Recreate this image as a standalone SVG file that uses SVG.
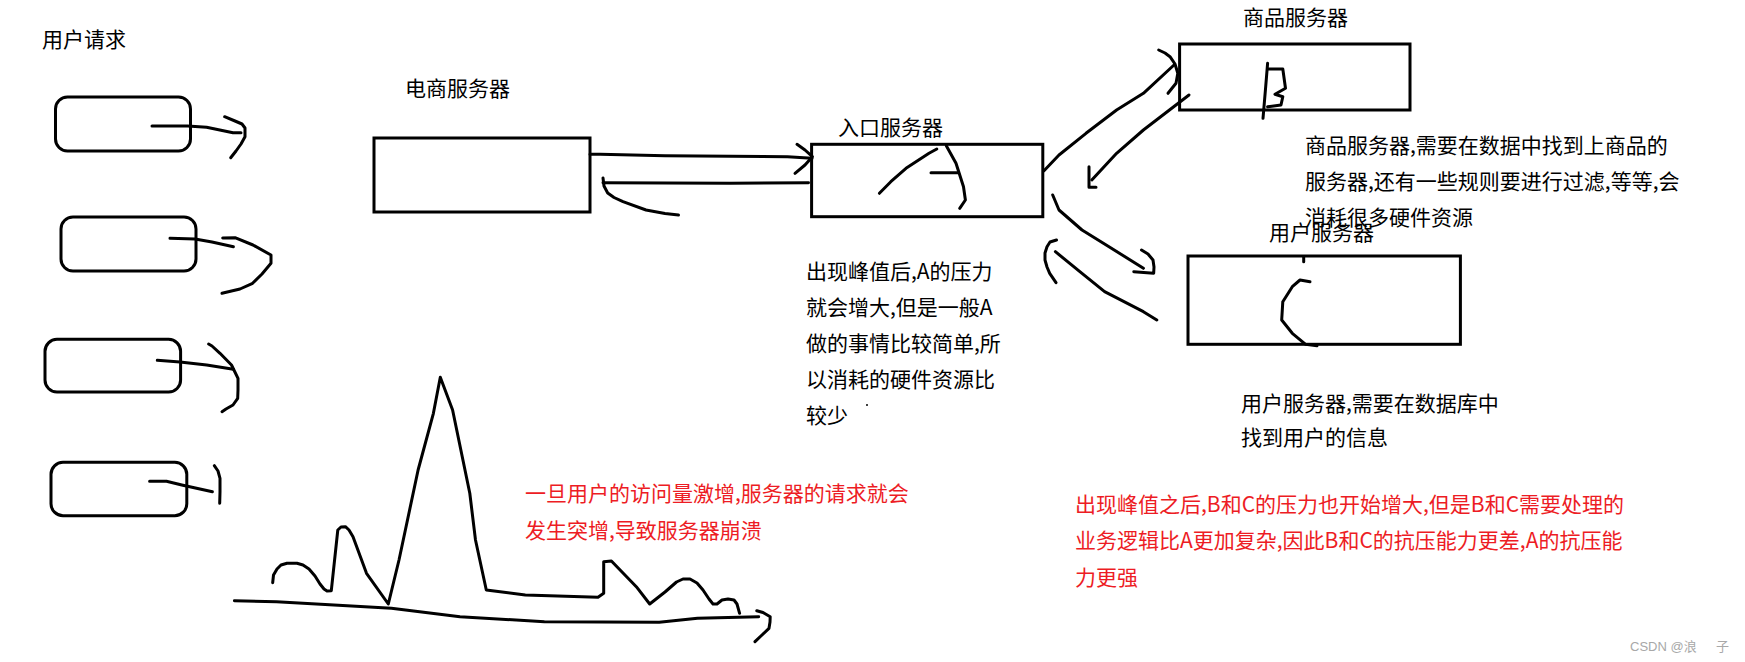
<svg xmlns="http://www.w3.org/2000/svg" width="1745" height="662" viewBox="0 0 1745 662">
<style>
.s{fill:none;stroke:#000;stroke-width:3;stroke-linecap:round;stroke-linejoin:round}
.box{fill:#fff;stroke:#000;stroke-width:3}
.t{font-family:"Noto Sans CJK SC","Microsoft YaHei",sans-serif;font-size:21px;fill:#000}
.r{fill:#ed1c24}
.w{font-family:"Liberation Sans","Noto Sans CJK SC",sans-serif;font-size:13px;fill:#a8a8a8}
</style>
<rect width="1745" height="662" fill="#fff"/>

<g id="user-requests">
<text class="t" x="42" y="47">用户请求</text>
<rect class="box" x="55.5" y="97" width="135" height="54" rx="12"/>
<rect class="box" x="61" y="217" width="135" height="54" rx="12"/>
<rect class="box" x="45" y="339.3" width="135.6" height="52.7" rx="12"/>
<rect class="box" x="51" y="462.3" width="135.8" height="53.4" rx="12"/>
</g>

<g id="ecommerce-server">
<text class="t" x="405" y="96">电商服务器</text>
<rect class="box" x="374" y="138" width="216" height="74"/>
</g>

<g id="entry-server">
<text class="t" x="838" y="135">入口服务器</text>
<rect class="box" x="811.6" y="144.3" width="231.2" height="72.4"/>
<polyline class="s" points="879.4,193.3 890.8,181.7 906,168.3 929,153.3 936.8,149"/>
<polyline class="s" points="946.3,145.7 956,163.3 963.5,186.7 965.4,200 959.7,208.3"/>
<line class="s" x1="931" y1="172.7" x2="957.8" y2="172.7"/>
</g>

<g id="goods-server">
<text class="t" x="1243" y="24.5">商品服务器</text>
<rect class="box" x="1179.6" y="44" width="230.4" height="66"/>
<polyline class="s" points="1267.6,63.3 1265.7,86.7 1263,118.3"/>
<polyline class="s" points="1267.6,69 1282.8,69 1285.5,88.3 1275,94.3 1282.8,96.7 1281,105 1267.6,106.7"/>
</g>

<g id="user-server">
<text class="t" x="1269" y="240">用户服务器</text>
<rect class="box" x="1188" y="256" width="272.4" height="88.3"/>
<line class="s" x1="1303.7" y1="256.7" x2="1303.7" y2="261.7"/>
<polyline class="s" points="1310,281.7 1300,280 1292.3,286.7 1282.8,301.7 1281.7,320 1292.3,333.3 1305.6,344.3 1317,345.7"/>
</g>

<g id="connectors">
<polyline class="s" points="152,126 187.5,126 206.6,127.3 233,132.7 241,132.7"/>
<polyline class="s" points="224.6,116.7 235,121 242,124 245,128 245,136.7 241,144 236,151 230.7,157.7"/>
<polyline class="s" points="170,238.3 195,239 212,242 233.4,246.7"/>
<polyline class="s" points="222.7,238 235,237.7 253,245 271,255 271,263.3 262,274 252.6,283.3 240,289 222,293.3"/>
<polyline class="s" points="157.3,360.3 180,362 206.7,365 233.4,369.3"/>
<polyline class="s" points="208.6,344 212,346 220,353.3 231.5,365 238,378.3 238,390 237.7,398.3 233,405 226,409 222,411.7"/>
<polyline class="s" points="149.6,481.3 166.5,481.3 181.8,485 212.4,491.7"/>
<polyline class="s" points="214.3,465.7 218,471 220,478.3 220,492 219.7,503.3"/>
<polyline class="s" points="590,154.3 600,154.3 665,155.7 787.5,156.7 812,158.3"/>
<polyline class="s" points="797,144.3 805,150 812.4,156.7 805,165 795,173.3"/>
<polyline class="s" points="808.5,182.7 730,183.3 603,182.7"/>
<polyline class="s" points="603,178 604,186 607.7,193 614,197.5 623,201.7 646,210 665,213.5 678.5,215"/>
<polyline class="s" points="1044,170.7 1059,155 1086,133.3 1116.6,110 1143.4,93.3 1174,65"/>
<polyline class="s" points="1158.7,50 1165,53 1170,56.7 1175,64 1177.8,73.3 1176,83.3 1168,93.3"/>
<polyline class="s" points="1189,95 1143.4,130 1116.6,153.3 1091.8,180"/>
<polyline class="s" points="1089,166.7 1089,187.3 1096,187.3"/>
<polyline class="s" points="1052.7,195 1059,210 1082,230 1109,246.7 1143.4,268.3"/>
<polyline class="s" points="1141.5,250 1148,254 1153,260 1154,267 1153.7,273.3 1133.8,271.7"/>
<polyline class="s" points="1156.8,320 1143.4,311.7 1104.6,291.7 1082,273.3 1055.4,251.7"/>
<polyline class="s" points="1056.5,240 1050,242 1047,246.7 1045,253 1045,260 1047,267 1049.7,273.3 1056,282.7"/>
</g>

<g id="texts">
<text class="t"><tspan x="806" y="278.5">出现峰值后,A的压力</tspan><tspan x="806" y="314.5">就会增大,但是一般A</tspan><tspan x="806" y="350.5">做的事情比较简单,所</tspan><tspan x="806" y="386.5">以消耗的硬件资源比</tspan><tspan x="806" y="422.5">较少</tspan></text>
<circle cx="867" cy="405" r="1" fill="#000"/>
<text class="t"><tspan x="1305" y="152.5">商品服务器,需要在数据中找到上商品的</tspan><tspan x="1305" y="189">服务器,还有一些规则要进行过滤,等等,会</tspan><tspan x="1305" y="225">消耗很多硬件资源</tspan></text>
<text class="t"><tspan x="1241" y="411">用户服务器,需要在数据库中</tspan><tspan x="1241" y="445">找到用户的信息</tspan></text>
<text class="t r"><tspan x="525" y="501">一旦用户的访问量激增,服务器的请求就会</tspan><tspan x="525" y="537.5">发生突增,导致服务器崩溃</tspan></text>
<text class="t r"><tspan x="1075" y="512">出现峰值之后,B和C的压力也开始增大,但是B和C需要处理的</tspan><tspan x="1075" y="548">业务逻辑比A更加复杂,因此B和C的抗压能力更差,A的抗压能</tspan><tspan x="1075" y="584.5">力更强</tspan></text>
<text class="w" x="1630" y="651">CSDN @浪<tspan x="1716">子</tspan></text>
</g>

<g id="chart">
<polyline class="s" points="234.4,600.7 276.5,601.7 391.4,608.3 460,616.7 544.4,621.7 659.2,622.3 697.5,618.3 758.7,616.7"/>
<polyline class="s" points="756.8,610.7 763,612.5 770.2,616.7 770,622 769,628.3 762,635 755,641.7"/>
<polyline class="s" points="272.7,582.7 273.5,575 277,569 281,565 287,563.3 297,563.3 303,565 309,569 315,576 320,584 324,589 327,591 331.3,590.7 337.8,530 341,527 345.4,526.7 349,530 353,536.7 366.5,573.3 388.3,604 399,560 418.1,470 433.4,413.3 440.3,377.3 452.6,410 469.8,493.3 475.5,540 486.3,590 525.3,595 598,597.3 603.7,593.3 603.7,561.7 611.4,561 636.3,586.7 649.7,604 665,592 676.5,582 683,579 690,579 697,583 703,590 709,599 713,604 717,604 722,600 728,599 734,600 737,604 739.6,613.3"/>
</g>
</svg>
